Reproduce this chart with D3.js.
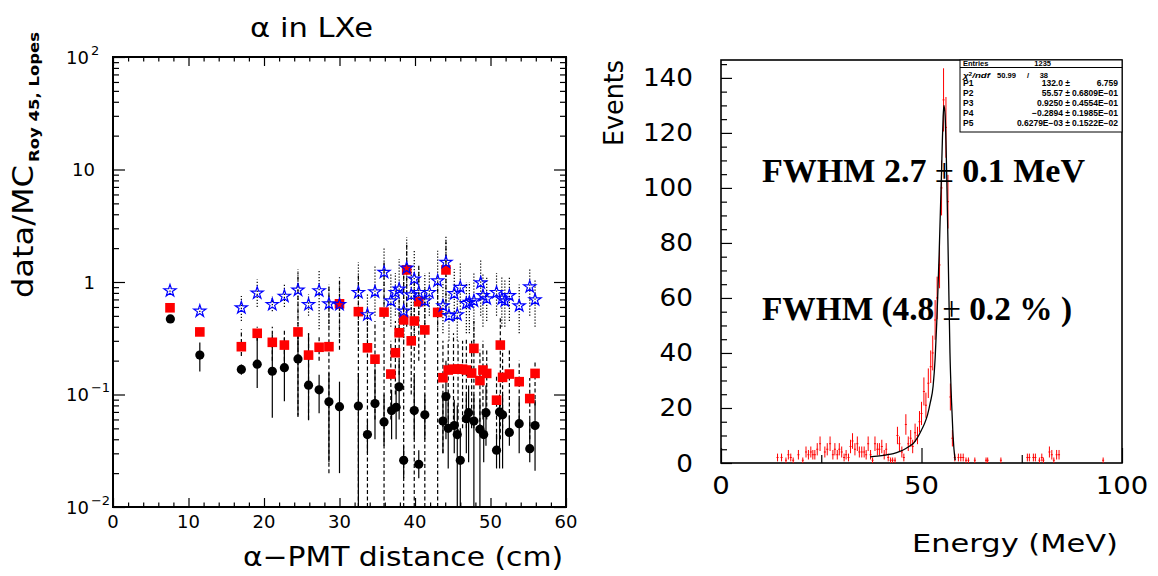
<!DOCTYPE html>
<html>
<head>
<meta charset="utf-8">
<script src="https://cdn.jsdelivr.net/npm/d3@7"></script>
<style>
body { margin: 0; background: #fff; }
svg { display: block; }
</style>
</head>
<body>
<svg id="chart" width="1158" height="576"></svg>
<script>
// left panel : data/MC ratio vs alpha-PMT distance, rows are [distance, value, errLow, errHigh]
const blackPts = [
	[7.6, 0.47, 0.44, 0.50], [11.5, 0.224, 0.16, 0.29], [17.0, 0.167, 0.15, 0.185], [19.1, 0.186, 0.114, 0.32],
	[21.1, 0.161, 0.062, 0.34], [22.7, 0.173, 0.087, 0.32], [24.5, 0.207, 0.065, 0.37], [25.9, 0.121, 0.059, 0.35],
	[27.3, 0.110, 0.068, 0.15], [28.6, 0.086, 0.025, 0.155], [30.0, 0.078, 0.02, 0.13], [32.5, 0.079, 0.01, 0.155],
	[33.7, 0.044, 0.03, 0.06], [34.7, 0.083, 0.04, 0.17], [35.9, 0.057, 0.035, 0.1], [36.9, 0.072, 0.04, 0.11],
	[37.5, 0.077, 0.04, 0.12], [37.9, 0.117, 0.06, 0.2], [38.5, 0.026, 0.018, 0.035], [39.9, 0.072, 0.04, 0.15],
	[40.5, 0.024, 0.018, 0.032], [41.3, 0.066, 0.04, 0.1], [43.7, 0.058, 0.03, 0.1], [44.1, 0.096, 0.04, 0.2],
	[44.4, 0.050, 0.022, 0.09], [45.2, 0.053, 0.03, 0.09], [45.6, 0.044, 0.01, 0.08], [46.0, 0.026, 0.01, 0.05],
	[46.8, 0.061, 0.03, 0.1], [47.1, 0.069, 0.025, 0.12], [47.8, 0.058, 0.01, 0.1], [48.6, 0.049, 0.01, 0.09],
	[49.1, 0.044, 0.025, 0.07], [49.4, 0.069, 0.035, 0.12], [50.8, 0.032, 0.022, 0.045], [51.2, 0.070, 0.022, 0.1],
	[51.6, 0.066, 0.022, 0.1], [52.5, 0.046, 0.035, 0.065], [53.8, 0.055, 0.03, 0.09], [55.2, 0.033, 0.025, 0.06],
	[55.9, 0.053, 0.021, 0.09]
];
const redPts = [
	[7.55, 0.59, 0.57, 0.61], [11.5, 0.36, 0.34, 0.38], [17.0, 0.266, 0.22, 0.38], [19.1, 0.35, 0.3, 0.4],
	[21.1, 0.291, 0.2, 0.4], [22.7, 0.275, 0.2, 0.38], [24.5, 0.36, 0.063, 1.2], [25.9, 0.224, 0.06, 0.35],
	[27.3, 0.263, 0.2, 0.33], [28.6, 0.266, 0.02, 0.9], [30.0, 0.64, 0.25, 1.1], [32.5, 0.545, 0.01, 1.2],
	[33.7, 0.26, 0.01, 0.55], [34.7, 0.206, 0.06, 0.45], [35.9, 0.54, 0.01, 1.5], [36.8, 0.152, 0.06, 0.3],
	[37.4, 0.235, 0.1, 0.45], [37.9, 0.354, 0.15, 0.7], [38.5, 0.46, 0.01, 1.3], [38.9, 1.28, 0.4, 2.2],
	[39.5, 0.30, 0.1, 0.6], [39.9, 0.45, 0.01, 1.0], [40.5, 0.668, 0.2, 1.4], [41.3, 0.375, 0.01, 0.9],
	[43.0, 0.537, 0.01, 1.0], [43.7, 0.141, 0.03, 0.3], [44.1, 1.28, 0.5, 2.3], [44.4, 0.165, 0.06, 0.3],
	[45.1, 0.168, 0.06, 0.35], [45.7, 0.168, 0.04, 0.3], [46.3, 0.168, 0.05, 0.3], [46.8, 0.165, 0.05, 0.32],
	[47.5, 0.155, 0.05, 0.3], [47.8, 0.257, 0.05, 0.45], [48.6, 0.133, 0.05, 0.25], [49.0, 0.165, 0.06, 0.3],
	[49.5, 0.154, 0.06, 0.25], [50.8, 0.089, 0.04, 0.15], [51.3, 0.275, 0.04, 0.5], [51.6, 0.142, 0.05, 0.25],
	[52.5, 0.152, 0.06, 0.25], [53.8, 0.13, 0.06, 0.2], [55.2, 0.092, 0.04, 0.14], [55.9, 0.154, 0.08, 0.2]
];
const bluePts = [
	[7.55, 0.85, 0.82, 0.88], [11.5, 0.56, 0.54, 0.58], [17.0, 0.60, 0.45, 0.75], [19.1, 0.81, 0.6, 1.05],
	[21.1, 0.64, 0.55, 0.75], [22.7, 0.76, 0.6, 0.95], [24.5, 0.86, 0.26, 1.3], [25.9, 0.64, 0.5, 0.78],
	[27.3, 0.85, 0.38, 1.3], [28.6, 0.65, 0.4, 0.95], [30.0, 0.64, 0.3, 1.0], [32.5, 0.82, 0.3, 1.5],
	[33.7, 0.52, 0.3, 0.8], [34.7, 0.83, 0.5, 1.4], [35.9, 1.24, 0.5, 2.0], [36.8, 0.69, 0.4, 1.2],
	[37.4, 0.82, 0.5, 1.2], [37.9, 0.88, 0.3, 1.6], [38.5, 0.56, 0.3, 1.2], [38.9, 1.35, 0.5, 2.5],
	[39.5, 0.78, 0.45, 1.3], [39.9, 1.08, 0.35, 1.9], [40.5, 0.82, 0.45, 1.3], [41.3, 0.69, 0.35, 1.2],
	[41.9, 0.82, 0.5, 1.25], [43.0, 1.04, 0.4, 1.9], [43.7, 0.625, 0.35, 1.0], [44.1, 1.52, 0.6, 2.6],
	[44.5, 0.51, 0.3, 0.8], [45.2, 0.80, 0.45, 1.3], [45.6, 0.52, 0.3, 0.8], [46.0, 0.91, 0.5, 1.5],
	[46.8, 0.655, 0.35, 1.0], [47.2, 0.67, 0.35, 1.0], [47.8, 0.69, 0.3, 1.2], [48.7, 1.0, 0.5, 1.6],
	[49.0, 0.77, 0.4, 1.2], [49.5, 0.72, 0.45, 1.1], [50.8, 0.82, 0.5, 1.2], [51.5, 0.72, 0.4, 1.1],
	[51.9, 0.69, 0.4, 1.05], [52.5, 0.77, 0.45, 1.1], [53.8, 0.625, 0.35, 0.95], [55.2, 0.92, 0.5, 1.3],
	[55.9, 0.706, 0.4, 1.05]
];
const distTicks = [0, 10, 20, 30, 40, 50, 60];
const ratioTicks = [0.01, 0.1, 1, 10, 100];
const ratioLabels = [["10", "\u22122"], ["10", "\u22121"], ["1", ""], ["10", ""], ["10", "2"]];

// right panel : energy spectrum (bin centre in MeV, entries) and the fitted curve
const histE = [
	14.1, 15.1, 16.2, 16.8, 17.4, 18.0, 19.3, 20.4, 21.2, 21.8,
	22.4, 22.9, 23.4, 24.0, 24.7, 25.9, 26.5, 27.2, 27.9, 28.4,
	29.0, 29.5, 30.1, 30.7, 31.2, 31.8, 32.3, 32.8, 33.4, 34.0,
	34.5, 35.1, 35.7, 36.2, 36.7, 37.3, 37.8, 38.4, 39.0, 39.5,
	40.1, 40.7, 41.2, 41.7, 42.3, 42.8, 43.4, 44.0, 44.5, 45.1,
	45.6, 46.1, 46.7, 47.3, 47.8, 48.4, 49.0, 49.5, 50.0, 50.6,
	51.1, 51.7, 52.3, 52.8, 53.4, 53.9, 54.5, 55.0, 55.5, 56.1,
	56.6, 57.2, 57.7, 58.3, 59.2, 59.8, 60.4, 61.1, 61.7, 63.3,
	66.1, 66.5, 69.8, 76.4, 76.9, 77.9, 78.4, 79.4, 80.0, 80.4,
	81.9, 82.5, 83.0, 83.7, 84.3, 95.3
];
const histN = [
	2, 2, 1, 3, 2, 1, 3, 1, 4, 3,
	4, 3, 3, 5, 7, 4, 5, 7, 3, 5,
	3, 5, 4, 2, 3, 2, 6, 8, 5, 7,
	4, 4, 4, 3, 7, 3, 1, 7, 5, 5,
	6, 3, 5, 2, 1, 1, 1, 10, 7, 4,
	2, 14, 7, 9, 6, 11, 10, 15, 18, 26,
	21, 29, 35, 40, 52, 60, 72, 100, 132, 122,
	95, 24, 9, 2, 2, 2, 2, 1, 1, 1,
	1, 1, 1, 2, 2, 2, 2, 1, 2, 1,
	4, 3, 1, 3, 3, 1
];
const fitE = [37.2, 39, 41, 43, 44.6, 46, 47.1, 48.0, 49.0, 50.0, 50.8, 51.5, 52.2, 52.9, 53.4, 53.8,
	54.1, 54.4, 54.7, 55.0, 55.2, 55.4, 55.6, 55.9, 56.3, 56.7, 57.1, 57.5, 57.8, 58.1, 58.4];
const fitN = [2.2, 2.5, 2.9, 3.4, 4.2, 5.2, 6.2, 7.2, 9.2, 12, 14.5, 17.5, 22, 28, 38, 51,
	63, 76, 91, 106, 117, 126, 130, 126, 104, 72, 40, 22, 12, 5, 1];
const eventTicks = [0, 20, 40, 60, 80, 100, 120, 140];
const energyTicks = [0, 50, 100];

const statNames = ["P1", "P2", "P3", "P4", "P5"];
const statVals = ["132.0 \u00b1", "55.57 \u00b1", "0.9250 \u00b1", "\u22120.2894 \u00b1", "0.6279E\u221203 \u00b1"];
const statErrs = ["6.759", "0.6809E\u221201", "0.4554E\u221201", "0.1985E\u221201", "0.1522E\u221202"];

const svg = d3.select("#chart");
const axisFont = "DejaVu Sans";

class RatioPlot {
	constructor(_config) {
		this.config = {
			left: _config.left, right: _config.right,
			top: _config.top, bottom: _config.bottom
		}
		this.initVis();
	}

	initVis() {
		let vis = this;
		let c = vis.config;

		vis.x = d3.scaleLinear().domain([0, 60]).range([c.left, c.right]);
		vis.y = d3.scaleLog().domain([0.01, 100]).range([c.bottom, c.top]);

		vis.g = svg.append("g");

		// ticks on all four sides, pointing inside
		const noDomain = g => g.select(".domain").remove();
		const minorX = d3.range(0, 61, 2).filter(v => v % 10 != 0);
		const minorY = vis.y.ticks().filter(v => !ratioTicks.includes(v));

		vis.g.append("g").attr("transform", `translate(0,${c.bottom})`)
			.call(d3.axisBottom(vis.x).tickValues(distTicks).tickSize(-9).tickFormat("")).call(noDomain);
		vis.g.append("g").attr("transform", `translate(0,${c.bottom})`)
			.call(d3.axisBottom(vis.x).tickValues(minorX).tickSize(-4.5).tickFormat("")).call(noDomain);
		vis.g.append("g").attr("transform", `translate(0,${c.top})`)
			.call(d3.axisTop(vis.x).tickValues(distTicks).tickSize(-9).tickFormat("")).call(noDomain);
		vis.g.append("g").attr("transform", `translate(0,${c.top})`)
			.call(d3.axisTop(vis.x).tickValues(minorX).tickSize(-4.5).tickFormat("")).call(noDomain);
		vis.g.append("g").attr("transform", `translate(${c.left},0)`)
			.call(d3.axisLeft(vis.y).tickValues(ratioTicks).tickSize(-12).tickFormat("")).call(noDomain);
		vis.g.append("g").attr("transform", `translate(${c.left},0)`)
			.call(d3.axisLeft(vis.y).tickValues(minorY).tickSize(-6).tickFormat("")).call(noDomain);
		vis.g.append("g").attr("transform", `translate(${c.right},0)`)
			.call(d3.axisRight(vis.y).tickValues(ratioTicks).tickSize(-12).tickFormat("")).call(noDomain);
		vis.g.append("g").attr("transform", `translate(${c.right},0)`)
			.call(d3.axisRight(vis.y).tickValues(minorY).tickSize(-6).tickFormat("")).call(noDomain);
		vis.g.selectAll(".tick line").attr("stroke", "#000").attr("stroke-width", 1.2);

		vis.g.append("rect")
			.attr("x", c.left).attr("y", c.top)
			.attr("width", c.right - c.left).attr("height", c.bottom - c.top)
			.attr("fill", "none").attr("stroke", "#000").attr("stroke-width", 2);

		// tick labels
		vis.g.append("g").selectAll("text")
			.data(distTicks)
			.join("text")
			.attr("x", d => vis.x(d))
			.attr("y", c.bottom + 21)
			.attr("text-anchor", "middle")
			.attr("font-family", axisFont)
			.attr("font-size", 18)
			.text(d => d);

		let yl = vis.g.append("g").selectAll("text")
			.data(ratioTicks)
			.join("text")
			.attr("x", (d, i) => ratioLabels[i][1] ? 66 : 95)
			.attr("y", d => vis.y(d) + 6.5)
			.attr("text-anchor", (d, i) => ratioLabels[i][1] ? "start" : "end")
			.attr("font-family", axisFont)
			.attr("font-size", 18);
		yl.append("tspan").text((d, i) => ratioLabels[i][0]);
		yl.append("tspan")
			.attr("dx", 2).attr("dy", -9)
			.attr("font-size", 13)
			.text((d, i) => ratioLabels[i][1]);

		// titles
		vis.g.append("text")
			.attr("x", 250).attr("y", 37)
			.attr("font-family", axisFont).attr("font-size", 26)
			.attr("textLength", 123).attr("lengthAdjust", "spacingAndGlyphs")
			.text("\u03b1 in LXe");

		vis.g.append("text")
			.attr("x", 243).attr("y", 566)
			.attr("font-family", axisFont).attr("font-size", 27)
			.attr("textLength", 320).attr("lengthAdjust", "spacingAndGlyphs")
			.text("\u03b1\u2212PMT distance (cm)");

		let yt = vis.g.append("g").attr("transform", "translate(33,298) rotate(-90)");
		yt.append("text")
			.attr("font-family", axisFont).attr("font-size", 28)
			.attr("textLength", 133).attr("lengthAdjust", "spacingAndGlyphs")
			.text("data/MC");
		yt.append("text")
			.attr("x", 136).attr("y", 6)
			.attr("font-family", axisFont).attr("font-size", 14).attr("font-weight", "bold")
			.attr("textLength", 130).attr("lengthAdjust", "spacingAndGlyphs")
			.text("Roy 45, Lopes");

		vis.updateVis();
	}

	updateVis() {
		let vis = this;
		const yc = v => vis.y(Math.max(v, 0.01));

		const series = [
			{pts: blackPts, dash: null},
			{pts: redPts, dash: "4,2.5"},
			{pts: bluePts, dash: "1.3,1.7"}
		];

		// error bars first, markers on top
		series.forEach(s => {
			vis.g.append("g").selectAll("line")
				.data(s.pts)
				.join("line")
				.attr("x1", d => vis.x(d[0])).attr("x2", d => vis.x(d[0]))
				.attr("y1", d => yc(d[2])).attr("y2", d => yc(d[3]))
				.attr("stroke", "#000")
				.attr("stroke-width", 1.2)
				.attr("stroke-dasharray", s.dash);
		});

		vis.g.append("g").selectAll("circle")
			.data(blackPts)
			.join("circle")
			.attr("cx", d => vis.x(d[0]))
			.attr("cy", d => vis.y(d[1]))
			.attr("r", 4.6)
			.attr("fill", "#000");

		vis.g.append("g").selectAll("rect")
			.data(redPts)
			.join("rect")
			.attr("x", d => vis.x(d[0]) - 4.8)
			.attr("y", d => vis.y(d[1]) - 4.8)
			.attr("width", 9.6).attr("height", 9.6)
			.attr("fill", "#ff0000");

		const star = d3.symbol(d3.symbolStar, 46);
		vis.g.append("g").selectAll("path")
			.data(bluePts)
			.join("path")
			.attr("transform", d => `translate(${vis.x(d[0])},${vis.y(d[1]) + 0.8})`)
			.attr("d", star)
			.attr("fill", "none")
			.attr("stroke", "#0000ff")
			.attr("stroke-width", 1.2);
	}
}

class EnergyPlot {
	constructor(_config) {
		this.config = {
			left: _config.left, right: _config.right,
			top: _config.top, bottom: _config.bottom
		}
		this.initVis();
	}

	initVis() {
		let vis = this;
		let c = vis.config;

		vis.x = d3.scaleLinear().domain([0, 100]).range([c.left, c.right]);
		vis.y = d3.scaleLinear().domain([0, 146.5]).range([c.bottom, c.top]);

		vis.g = svg.append("g");

		const noDomain = g => g.select(".domain").remove();
		const minorY = d3.range(0, 146, 5).filter(v => v % 20 != 0);

		vis.g.append("g").attr("transform", `translate(0,${c.bottom})`)
			.call(d3.axisBottom(vis.x).tickValues(energyTicks).tickSize(-15).tickFormat("")).call(noDomain);
		vis.g.append("g").attr("transform", `translate(0,${c.bottom})`)
			.call(d3.axisBottom(vis.x).tickValues([25, 75]).tickSize(-8).tickFormat("")).call(noDomain);
		vis.g.append("g").attr("transform", `translate(${c.left},0)`)
			.call(d3.axisLeft(vis.y).tickValues(eventTicks).tickSize(-11).tickFormat("")).call(noDomain);
		vis.g.append("g").attr("transform", `translate(${c.left},0)`)
			.call(d3.axisLeft(vis.y).tickValues(minorY).tickSize(-6).tickFormat("")).call(noDomain);
		vis.g.selectAll(".tick line").attr("stroke", "#000").attr("stroke-width", 1.2);

		vis.g.append("rect")
			.attr("x", c.left).attr("y", c.top)
			.attr("width", c.right - c.left).attr("height", c.bottom - c.top)
			.attr("fill", "none").attr("stroke", "#000").attr("stroke-width", 1.6);

		vis.g.append("g").selectAll("text")
			.data(eventTicks)
			.join("text")
			.attr("x", c.left - 28)
			.attr("y", d => vis.y(d) + 8.5)
			.attr("text-anchor", "end")
			.attr("font-family", axisFont).attr("font-size", 24)
			.attr("textLength", d => String(d).length * 16.7)
			.attr("lengthAdjust", "spacingAndGlyphs")
			.text(d => d);

		vis.g.append("g").selectAll("text")
			.data(energyTicks)
			.join("text")
			.attr("x", d => vis.x(d))
			.attr("y", c.bottom + 31)
			.attr("text-anchor", "middle")
			.attr("font-family", axisFont).attr("font-size", 24)
			.attr("textLength", d => String(d).length * 17.5)
			.attr("lengthAdjust", "spacingAndGlyphs")
			.text(d => d);

		vis.g.append("text")
			.attr("x", 912).attr("y", 552)
			.attr("font-family", axisFont).attr("font-size", 25)
			.attr("textLength", 206).attr("lengthAdjust", "spacingAndGlyphs")
			.text("Energy (MeV)");

		vis.g.append("text")
			.attr("transform", "translate(623,146) rotate(-90)")
			.attr("font-family", axisFont).attr("font-size", 26)
			.attr("textLength", 86).attr("lengthAdjust", "spacingAndGlyphs")
			.text("Events");

		vis.updateVis();
	}

	updateVis() {
		let vis = this;
		let c = vis.config;
		let bins = histE.map((e, i) => ({e: e, n: histN[i]}));

		// histogram drawn with poisson error bars
		let hg = vis.g.append("g").attr("stroke", "#ff0000").attr("stroke-width", 1);
		hg.selectAll("line.v")
			.data(bins)
			.join("line")
			.attr("class", "v")
			.attr("x1", d => vis.x(d.e)).attr("x2", d => vis.x(d.e))
			.attr("y1", d => vis.y(d.n - Math.sqrt(d.n)))
			.attr("y2", d => vis.y(d.n + Math.sqrt(d.n)));
		hg.selectAll("line.h")
			.data(bins)
			.join("line")
			.attr("class", "h")
			.attr("x1", d => vis.x(d.e - 0.25)).attr("x2", d => vis.x(d.e + 0.25))
			.attr("y1", d => vis.y(d.n)).attr("y2", d => vis.y(d.n));

		let line = d3.line()
			.x(d => vis.x(d[0]))
			.y(d => vis.y(d[1]))
			.curve(d3.curveMonotoneX);

		vis.g.append("path")
			.datum(fitE.map((e, i) => [e, fitN[i]]))
			.attr("d", line)
			.attr("fill", "none")
			.attr("stroke", "#000")
			.attr("stroke-width", 1.3);

		// resolution labels
		let lines = [
			{y: 182, w: 323, parts: ["FWHM 2.7 ", "\u00b1", " 0.1 MeV"]},
			{y: 320, w: 310, parts: ["FWHM (4.8 ", "\u00b1", " 0.2 % )"]}
		];
		lines.forEach(l => {
			let t = vis.g.append("text")
				.attr("x", 762).attr("y", l.y)
				.attr("font-family", "Liberation Serif").attr("font-size", 33)
				.attr("textLength", l.w).attr("lengthAdjust", "spacingAndGlyphs");
			l.parts.forEach((p, i) => {
				t.append("tspan").attr("font-weight", i == 1 ? "normal" : "bold").text(p);
			});
		});

		// fit statistics box
		let sb = vis.g.append("g")
			.attr("font-family", "Liberation Sans").attr("font-size", 8.5).attr("font-weight", "bold");
		sb.append("rect")
			.attr("x", 960).attr("y", c.top).attr("width", c.right - 960).attr("height", 72)
			.attr("fill", "#fff").attr("stroke", "#000").attr("stroke-width", 1);
		sb.append("line")
			.attr("x1", 960).attr("x2", c.right).attr("y1", 67.5).attr("y2", 67.5)
			.attr("stroke", "#000").attr("stroke-width", 1);
		sb.append("text").attr("x", 963).attr("y", 65.5).attr("font-size", 7.5).text("Entries");
		sb.append("text").attr("x", 1051).attr("y", 65.5).attr("font-size", 7.5)
			.attr("text-anchor", "end").text("1235");
		let chi = sb.append("text").attr("x", 963).attr("y", 78)
			.attr("font-size", 7.5).attr("textLength", 27).attr("lengthAdjust", "spacingAndGlyphs");
		chi.append("tspan").attr("font-style", "italic").text("\u03c7");
		chi.append("tspan").attr("dy", -2.5).attr("font-size", 5).text("2");
		chi.append("tspan").attr("dy", 2.5).attr("font-style", "italic").text("/ndf");
		sb.append("text").attr("x", 1016).attr("y", 78).attr("font-size", 7.5).attr("text-anchor", "end")
			.attr("textLength", 19).attr("lengthAdjust", "spacingAndGlyphs").text("50.99");
		sb.append("text").attr("x", 1028).attr("y", 78).attr("font-size", 7.5).attr("text-anchor", "middle").text("/");
		sb.append("text").attr("x", 1048).attr("y", 78).attr("font-size", 7.5).attr("text-anchor", "end").text("38");

		statNames.forEach((name, i) => {
			let yy = 86 + i * 10;
			sb.append("text").attr("x", 963).attr("y", yy).text(name);
			sb.append("text").attr("x", 1070).attr("y", yy).attr("text-anchor", "end").text(statVals[i]);
			sb.append("text").attr("x", 1118).attr("y", yy).attr("text-anchor", "end").text(statErrs[i]);
		});
	}
}

new RatioPlot({left: 113, right: 566, top: 57, bottom: 507});
new EnergyPlot({left: 721, right: 1122, top: 60, bottom: 463});
</script>
</body>
</html>
